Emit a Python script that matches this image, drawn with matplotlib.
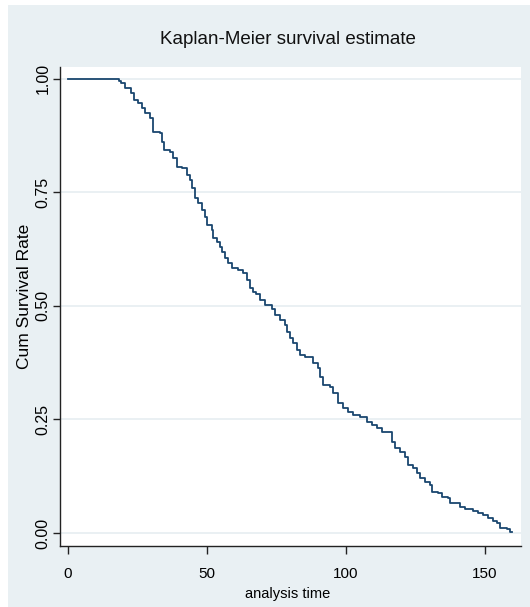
import matplotlib
matplotlib.use("Agg")
import matplotlib.pyplot as plt
from matplotlib.patches import Rectangle

# Kaplan-Meier step points (time, survival after the step)
km_time = [0, 18.3, 19.1, 20.5, 22.7, 23.7, 25.2, 26.6, 27.7, 29.5, 30.6,
           33.1, 33.8, 34.5, 36.7, 37.8, 39.2, 41.0, 42.8, 43.9, 44.6,
           45.7, 46.8, 48.2, 49.3, 50.0, 51.8, 52.2, 53.6, 54.7, 55.4,
           56.5, 57.6, 59.0, 61.2, 62.9, 64.4, 65.5, 66.5, 67.6, 69.1,
           70.9, 73.4, 74.5, 76.3, 78.1, 78.8, 79.9, 80.9, 82.4, 83.5,
           85.3, 88.1, 89.9, 90.6, 91.7, 94.2, 95.3, 97.1, 98.9, 100.7,
           102.5, 105.0, 107.6, 109.4, 111.2, 112.9, 116.5, 117.6, 119.4, 121.2,
           122.3, 124.1, 125.5, 126.6, 128.4, 130.2, 130.9, 133.1, 134.5, 136.7,
           137.4, 141.0, 142.8, 145.7, 147.5, 149.3, 151.1, 152.9, 154.3, 155.4,
           157.9, 159.0, 159.8]
km_surv = [1.0, 0.996, 0.991, 0.980, 0.969, 0.954, 0.947, 0.936, 0.925, 0.914, 0.883,
           0.881, 0.861, 0.844, 0.839, 0.826, 0.806, 0.804, 0.789, 0.778, 0.760,
           0.738, 0.727, 0.711, 0.696, 0.678, 0.667, 0.650, 0.641, 0.630, 0.619,
           0.606, 0.595, 0.584, 0.579, 0.573, 0.557, 0.540, 0.531, 0.526, 0.513,
           0.502, 0.493, 0.480, 0.469, 0.458, 0.443, 0.430, 0.419, 0.403, 0.392,
           0.388, 0.374, 0.363, 0.344, 0.326, 0.322, 0.308, 0.286, 0.275, 0.267,
           0.260, 0.256, 0.244, 0.238, 0.231, 0.222, 0.200, 0.187, 0.178, 0.167,
           0.150, 0.143, 0.132, 0.121, 0.112, 0.106, 0.090, 0.088, 0.079, 0.077,
           0.066, 0.057, 0.053, 0.048, 0.044, 0.040, 0.033, 0.026, 0.022, 0.011,
           0.009, 0.002, 0.002]

x_ticks = [0, 50, 100, 150]
y_ticks = [0.0, 0.25, 0.5, 0.75, 1.0]
y_ticklabels = ["0.00", "0.25", "0.50", "0.75", "1.00"]

bg = "#e9f0f3"
navy = "#1a476f"
fam = ["Liberation Sans", "DejaVu Sans"]

fig = plt.figure(figsize=(5.3, 6.07), dpi=100, facecolor="white")
# light graph region, leaving a thin white strip top and left
fig.patches.append(Rectangle((8 / 530, 0), 1, 1 - 5 / 607, transform=fig.transFigure,
                             facecolor=bg, edgecolor="none", zorder=-10))

ax = fig.add_axes([60 / 530, 1 - 546 / 607, 461 / 530, 479 / 607])
ax.set_facecolor("white")

# horizontal grid
for yv in y_ticks:
    ax.axhline(yv, color="#e6eef1", lw=1.2, zorder=0)

ax.step(km_time, km_surv, where="post", color=navy, lw=1.3, zorder=3)

ax.set_xlim(-2.9, 163.0)
ax.set_ylim(-0.0286, 1.026)

for s in ["top", "right"]:
    ax.spines[s].set_visible(False)
for s in ["left", "bottom"]:
    ax.spines[s].set_color("#222222")
    ax.spines[s].set_linewidth(1.0)

ax.set_xticks(x_ticks)
ax.set_xticklabels([str(v) for v in x_ticks], family=fam, fontsize=11,
                   fontstretch="condensed")
ax.set_yticks(y_ticks)
ax.set_yticklabels(y_ticklabels, family=fam, fontsize=11.5, rotation=90, va="center")
ax.tick_params(axis="x", direction="out", length=6, width=1, color="#222222", pad=9)
ax.tick_params(axis="y", direction="out", length=5, width=1, color="#222222", pad=2)

ax.set_xlabel("analysis time", family=fam, fontsize=10.5, fontstretch="condensed")
ax.xaxis.set_label_coords((288 - 60) / 461, (546 - 594) / 479)
ax.xaxis.label.set_va("center")

ax.set_ylabel("Cum Survival Rate", family=fam, fontsize=12.5)
ax.yaxis.set_label_coords((25 - 60) / 461, (546 - 296) / 479)
ax.yaxis.label.set_va("center")

fig.text(287.5 / 530, 1 - 40 / 607, "Kaplan-Meier survival estimate",
         family=fam, fontsize=13.5, fontstretch="condensed",
         ha="center", va="center", color="#111111")

fig.savefig("out.png", dpi=100, facecolor=fig.get_facecolor())
